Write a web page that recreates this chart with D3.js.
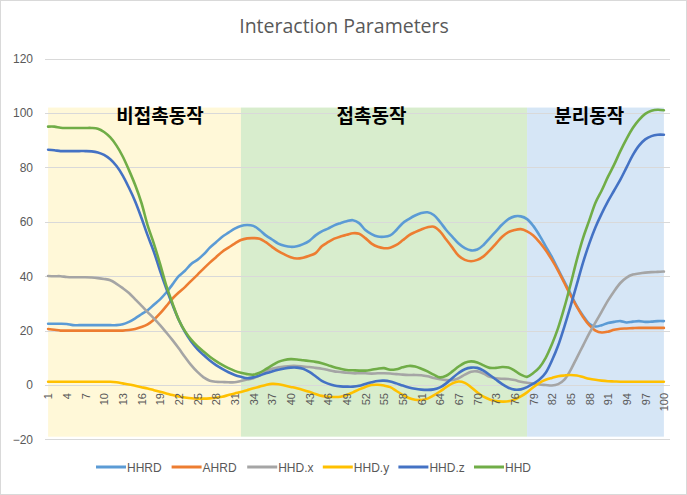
<!DOCTYPE html>
<html><head><meta charset="utf-8">
<script src="https://cdn.jsdelivr.net/npm/d3@7/dist/d3.min.js"></script>
<style>
html,body{margin:0;padding:0;background:#fff;}
svg{display:block;}
</style></head>
<body><svg id="chart" width="687" height="495"></svg>
<script>
const title = "Interaction Parameters";
const categories = [1,2,3,4,5,6,7,8,9,10,11,12,13,14,15,16,17,18,19,20,21,22,23,24,25,26,27,28,29,30,31,32,33,34,35,36,37,38,39,40,41,42,43,44,45,46,47,48,49,50,51,52,53,54,55,56,57,58,59,60,61,62,63,64,65,66,67,68,69,70,71,72,73,74,75,76,77,78,79,80,81,82,83,84,85,86,87,88,89,90,91,92,93,94,95,96,97,98,99,100];
const xTickLabels = [1,4,7,10,13,16,19,22,25,28,31,34,37,40,43,46,49,52,55,58,61,64,67,70,73,76,79,82,85,88,91,94,97,100];
const yTickLabels = [-20,0,20,40,60,80,100,120];
const seriesNames = ["HHRD","AHRD","HHD.x","HHD.y","HHD.z","HHD"];

const HHRD = [22.5,22.5,22.5,22.4,22,22,22,22,22,22,22,22,22.3,23.2,24.5,26,27.5,29.5,31.5,34,37,40,42,44.5,46,48,50.5,52.5,54.5,56,57.5,58.5,58.8,58.5,57,55,53.5,52,51.2,50.8,51,51.8,53,55,56.5,57.5,58.7,59.5,60.2,60.6,59.5,57,55.5,54.6,54.5,55,57,59.5,61,62.3,63.2,63.5,62.5,60,57,54.5,52,50.3,49.5,49.8,51.5,54,56.5,59,61,62,62,61,58.5,55,51,47,42.5,38,33.5,29,25.5,22.5,21.5,22,22.8,23.2,23.5,23,23.3,23.5,23.2,23.3,23.5,23.5];
const AHRD = [20.6,20.3,20,20,20,20,20,20,20,20,20,20,20,20.2,20.6,21.3,22.3,24,26.3,29,31.8,34,36,38.3,40.5,42.8,45,47,49,50.5,52,53.3,53.9,54,53.8,52.5,50.8,49.2,48,47,46.5,46.8,47.5,48.5,51,52.5,53.8,54.6,55.2,55.8,55.6,54,52,50.8,50.3,50.5,51.5,53.2,55,56.2,57.2,58,58.2,56.5,53.5,50.5,47.5,46,45.5,46,47.3,49.5,52,54.5,56.2,57,57.3,56.5,55,52.5,49.5,46,42,37.5,33,28.8,25,22,20,19.3,19.6,20.3,20.7,20.8,20.9,21,21,21,21,21];
const HHDx = [40.1,40,40,39.7,39.6,39.6,39.6,39.5,39.3,39,38.5,37.2,35.6,33.8,31.5,29.2,26.8,24.5,22,19.3,16.5,13.5,10.3,7.3,4.8,2.8,1.6,1.2,1.1,1,1,1.5,2,2.5,3.5,5,6,6.5,6.8,7,7,6.8,6.6,6.3,6,5.5,5,4.8,4.5,4.3,4.3,4.3,4.2,4.3,4.3,4.2,4,3.8,3.7,3.7,3.6,3.2,2.6,2.1,1.8,1.8,2.5,3.8,4.9,5,4.2,3,2.5,2.3,2.2,1.8,1.2,0.8,0.5,0.2,0,-0.2,0.3,2,5.5,10,14.5,19,23,27,31,34.5,37.5,39.5,40.6,41,41.3,41.5,41.6,41.7];
const HHDy = [1.2,1.2,1.2,1.2,1.2,1.2,1.2,1.2,1.2,1.2,1.2,1.0,0.6,0.2,-0.3,-0.8,-1.3,-1.9,-2.5,-3.1,-3.7,-4.2,-4.6,-4.9,-5,-5,-4.9,-4.7,-4.3,-3.7,-3.1,-2.6,-1.9,-1.2,-0.6,0,0.4,0.3,-0.2,-0.7,-1.2,-1.8,-2.5,-3.3,-4,-4.3,-4.4,-4.3,-3.7,-2.7,-1.6,-0.7,0,0.1,-0.2,-0.8,-2.2,-3.6,-4.8,-5.4,-5.5,-5,-3.8,-2.4,-0.8,0.6,1.3,0.8,-0.8,-2.7,-4.3,-5.3,-5.9,-6.1,-6,-5.3,-4.2,-2.7,-0.8,0.8,1.9,2.6,3.2,3.5,3.7,3.5,2.9,2.3,1.9,1.6,1.4,1.3,1.2,1.2,1.2,1.2,1.2,1.2,1.2,1.2];
const HHDz = [86.5,86.3,86,86,86,86,86,85.9,85.5,84.6,83,80.5,77,72.5,67.5,61.5,55,49,42,35.5,29.5,24,19.5,16,13.2,11,9,7.3,5.9,4.7,3.7,3,2.5,2.8,3.5,4.3,5,5.6,6.1,6.4,6.4,6,4.8,3.2,1.5,0.5,-0.2,-0.5,-0.6,-0.6,-0.3,0.4,1,1.5,1.6,1.3,0.6,-0.2,-0.9,-1.4,-1.7,-1.8,-1.6,-0.9,0.6,2.6,4.4,5.8,6.4,6.3,5.3,3.7,2,0.3,-1,-1.7,-1.6,-0.8,0.5,2,4.5,9,14.5,21.5,29,37,45,52,58,63,67.5,71.5,75.5,80,84.5,88,90.3,91.5,92,92];
const HHD = [95,95,94.6,94.5,94.5,94.5,94.5,94.5,94.2,93,91,88,84,79,73.5,67,58.7,52,44.5,36.5,30,24,19.8,16.7,14.3,12.3,10.4,8.8,7.4,6.2,5.2,4.5,4,3.8,4.5,5.8,7.2,8.5,9.2,9.5,9.4,9.1,8.8,8.5,8,7.3,6.5,6,5.5,5.4,5.3,5.3,5.6,6,6.2,5.6,5.8,6.5,7,6.8,6,5,3.8,2.8,3.4,5,6.8,8.2,8.7,8.3,7.2,6.3,6.3,6.6,6.4,5.3,3.8,3,4.4,6.5,10,15,21,28.5,37,46,54,60.5,67,71.5,76.5,81,86,90.5,94.5,97.5,99.7,100.8,101.2,101];

const phaseLabels = ["비접촉동작","접촉동작","분리동작"];
const phaseFrom = [1,32,78];
const phaseTo = [32,78,100];
const phaseLabelAt = [19,53,88];
const phaseTop = [102,102,102];
const phaseBottom = [-19,-19,-19];

const seriesValues = [HHRD,AHRD,HHDx,HHDy,HHDz,HHD];
const colors = ["#5B9BD5","#ED7D31","#A5A5A5","#FFC000","#4472C4","#70AD47"];
const phaseColors = ["#FFF8D8","#D8EDCD","#D6E6F6"];

const svg = d3.select("#chart");
const W = 687, H = 495;
const left = 45, right = 667;

svg.append("rect").attr("x",0.5).attr("y",0.5).attr("width",W-1).attr("height",H-1)
  .attr("fill","#fff").attr("stroke","#D9D9D9");

const x = d3.scalePoint().domain(categories).range([left,right]).padding(0.5);
const y = d3.scaleLinear().domain([-20,120]).range([439.4,58.6]);

// phase backgrounds
const g = svg.append("g");
phaseLabels.forEach((lab,k)=>{
  g.append("rect")
    .attr("x", x(phaseFrom[k]))
    .attr("width", x(phaseTo[k]) - x(phaseFrom[k]))
    .attr("y", y(phaseTop[k]))
    .attr("height", y(phaseBottom[k]) - y(phaseTop[k]))
    .attr("fill", phaseColors[k]);
});

// gridlines
svg.append("g").selectAll("line").data(yTickLabels).join("line")
  .attr("x1", left).attr("x2", right+3)
  .attr("y1", d=>Math.round(y(d))+0.5).attr("y2", d=>Math.round(y(d))+0.5)
  .attr("stroke","#D9D9D9").attr("stroke-width",1);

// y axis
const yAxis = svg.append("g").attr("transform",`translate(${left},0)`)
  .call(d3.axisLeft(y).tickValues(yTickLabels).tickSize(0).tickPadding(12));
yAxis.select(".domain").remove();
yAxis.selectAll("text").attr("fill","#595959").style("font-family","'Liberation Sans', Arial, sans-serif").style("font-size","12px");

// lines
const line = d3.line().x((d,i)=>x(categories[i])).y(d=>y(d)).curve(d3.curveCatmullRom.alpha(0.5));
seriesValues.forEach((vals,k)=>{
  svg.append("path").datum(vals).attr("d",line)
    .attr("fill","none").attr("stroke",colors[k]).attr("stroke-width",2.6)
    .attr("stroke-linejoin","round").attr("stroke-linecap","round");
});

// x axis labels
const xAxis = svg.append("g").attr("transform",`translate(0,${y(0)})`)
  .call(d3.axisBottom(x).tickValues(xTickLabels).tickSize(0).tickPadding(0));
xAxis.select(".domain").remove();
xAxis.selectAll("text")
  .attr("transform","rotate(-90)")
  .attr("text-anchor","end")
  .attr("x",-8).attr("y",0).attr("dy","0.35em")
  .attr("fill","#595959")
  .style("font-family","'Liberation Sans', Arial, sans-serif").style("font-size","11px");

// phase labels (position between category centres)
const xAt = v => x(categories[0]) + (v - categories[0]) * x.step();
phaseLabels.forEach((lab,k)=>{
  svg.append("text").attr("x", xAt(phaseLabelAt[k]))
    .attr("y", y(96.2)).attr("text-anchor","middle")
    .style("font-family","'Noto Sans CJK KR', sans-serif").style("font-weight","bold").style("font-size","19px")
    .attr("fill","#000").text(lab);
});

// title
svg.append("text").attr("x",344).attr("y",33).attr("text-anchor","middle")
  .attr("fill","#595959").style("font-family","'Open Sans', sans-serif").style("font-size","19.5px").text(title);

// legend
const legX0 = 96, legStep = 75.6;
seriesNames.forEach((n,k)=>{
  const lx = legX0 + k*legStep;
  svg.append("line").attr("x1",lx).attr("x2",lx+30).attr("y1",467).attr("y2",467)
    .attr("stroke",colors[k]).attr("stroke-width",3);
  svg.append("text").attr("x",lx+31).attr("y",471.5).attr("fill","#595959")
    .style("font-family","'Liberation Sans', Arial, sans-serif").style("font-size","12px").text(n);
});
</script>
</body></html>
